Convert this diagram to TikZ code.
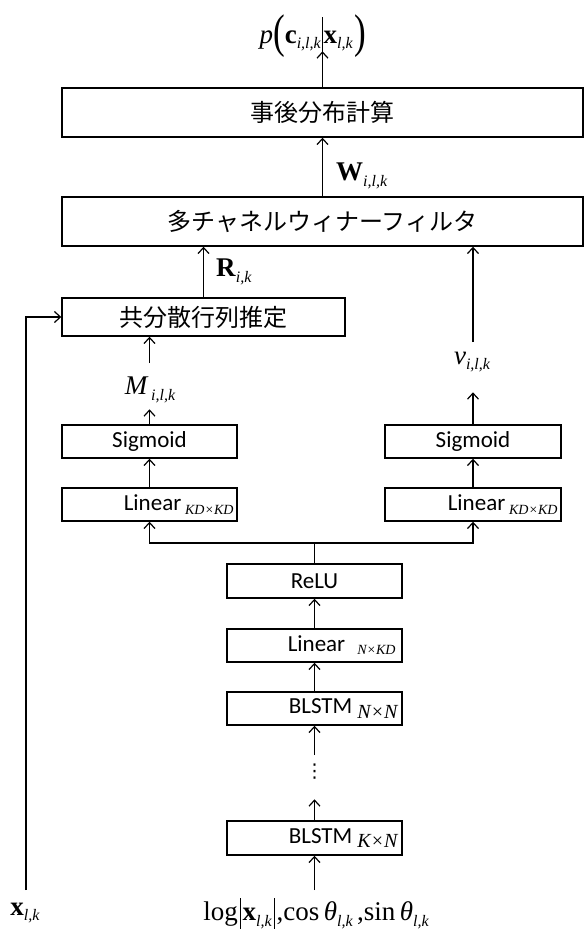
\documentclass[tikz,border=0pt]{standalone}
\usepackage{fontspec}
\usepackage{graphicx}
\usetikzlibrary{arrows.meta}
\newfontfamily\jpfont{Noto Sans CJK JP}
\newfontfamily\calfont{Carlito}
\newfontfamily\tms{Liberation Serif}
\newfontfamily\djv{DejaVu Sans}
\newcommand\msub[1]{\raisebox{-5.5pt}{\fontsize{16}{16}\selectfont\tms\itshape #1}}
\newcommand\lsub[3]{\raisebox{-#1}{\fontsize{#2}{#2}\selectfont\tms\itshape #3}}
\newcommand\tbar{\hspace{2pt}\rule[-8pt]{0.9pt}{31pt}\hspace{2pt}}
\newcommand\bigpar[1]{\raisebox{-4pt}{\scalebox{1.3}[1.75]{#1}}}
\tikzset{
  box/.style={draw, line width=1.4pt, inner sep=0pt, minimum height=33pt},
  arr/.style={line width=1.2pt, -{Straight Barb[length=6pt,width=11pt,line width=1.2pt]}},
  ln/.style={line width=1.2pt},
  jp/.style={font=\jpfont\fontsize{24}{24}\selectfont},
  sf/.style={font=\calfont\fontsize{23}{23}\selectfont},
  mth/.style={font=\tms\fontsize{27}{27}\selectfont, inner sep=0pt},
}
\begin{document}
\begin{tikzpicture}[x=1pt,y=-1pt]
\useasboundingbox (0,0) rectangle (585,934);
% boxes
\node[box, jp, minimum width=521pt, minimum height=49pt] (post) at (322.5,112.5) {事後分布計算};
\node[box, jp, minimum width=521pt, minimum height=49pt] (mwf) at (322.5,221.5) {多チャネルウィナーフィルタ};
\node[box, jp, minimum width=283pt, minimum height=38pt] (cov) at (203.5,317) {共分散行列推定};
\node[box, sf, minimum width=175pt] (sigL) at (149.5,441.5) {Sigmoid};
\node[box, minimum width=175pt] (linL) at (149.5,504.5) {};
\node[sf, anchor=east, inner sep=0pt] (linLt) at ([xshift=-4pt]linL.east) {Linear\,\lsub{4pt}{14}{KD×KD}};
\node[box, sf, minimum width=176pt] (sigR) at (473,441.5) {Sigmoid};
\node[box, minimum width=176pt] (linR) at (473,504.5) {};
\node[sf, anchor=east, inner sep=0pt] (linRt) at ([xshift=-4pt]linR.east) {Linear\,\lsub{4pt}{14}{KD×KD}};
\node[box, sf, minimum width=175pt, minimum height=34pt] (relu) at (314.5,581) {ReLU};
\node[box, minimum width=175pt] (linN) at (314.5,645.5) {};
\node[sf, anchor=east, inner sep=0pt] (linNt) at ([xshift=-7pt]linN.east) {Linear\hspace{12pt}\lsub{3pt}{14}{N×KD}};
\node[box, minimum width=175pt] (blN) at (314.5,708.5) {};
\node[sf, anchor=east, inner sep=0pt] (blNt) at ([xshift=-5pt]blN.east) {BLSTM\hspace{5pt}\lsub{5pt}{20}{N×N}};
\node[box, minimum width=175pt, minimum height=34pt] (blK) at (314.5,838) {};
\node[sf, anchor=east, inner sep=0pt] (blKt) at ([xshift=-5pt]blK.east) {BLSTM\hspace{5pt}\lsub{4pt}{20}{K×N}};
\node[inner sep=0pt, font=\djv\fontsize{19}{19}\selectfont] (dots) at (314.5,772) {⋮};
% math labels
\node[mth] (outp) at (313,36) {\textit{p}\bigpar{(}\textbf{c}\msub{i,l,k}\hspace{1pt}\rule[-10pt]{0.9pt}{36pt}\hspace{1pt}\textbf{x}\msub{l,k}\hspace{2pt}\bigpar{)}};
\node[mth, anchor=west] (Wl) at (336,176) {\textbf{W}\msub{i,l,k}};
\node[mth, anchor=west] (Rl) at (216,272) {\textbf{R}\msub{i,k}};
\node[mth] (Ml) at (150,390) {\textit{M}\msub{\,i,l,k}};
\node[mth] (vl) at (472,362) {\textit{v}\msub{i,l,k}};
\node[mth] (xin) at (25,913) {\textbf{x}\msub{l,k}};
\node[mth] (inp) at (316,913) {log\tbar\textbf{x}\msub{l,k}\tbar,cos\,\textit{θ}\msub{l,k}\,,sin\,\textit{θ}\msub{l,k}};
% coordinates
\coordinate (fe) at (26,890);
\coordinate (br) at (314.5,543);
\coordinate (mt) at (149.5,363);
\coordinate (vt) at (473,342);
\coordinate (dt) at (314.5,755);
% connectors
\draw[arr] (post.north) -- ++(0,-36);
\draw[arr] (mwf.north) -- (post.south);
\draw[arr] (cov.north) -- (cov.north |- mwf.south);
\draw[arr] (vt) -- (vt |- mwf.south);
\draw[arr] (fe) |- (cov.west);
\draw[arr] (mt) -- (mt |- cov.south);
\draw[arr] (sigL.north) -- ++(0,-15);
\draw[arr] (sigR.north) -- ++(0,-32);
\draw[arr] (linL.north) -- (sigL.south);
\draw[arr] (linR.north) -- (sigR.south);
\draw[ln] (relu.north) -- (br);
\draw[arr] (br) -| (linL.south);
\draw[arr] (br) -| (linR.south);
\draw[arr] (linN.north) -- (relu.south);
\draw[arr] (blN.north) -- (linN.south);
\draw[arr] (dt) -- (blN.south);
\draw[arr] (blK.north) -- ++(0,-21);
\draw[arr] (blK.south |- fe) -- (blK.south);
\end{tikzpicture}
\end{document}
